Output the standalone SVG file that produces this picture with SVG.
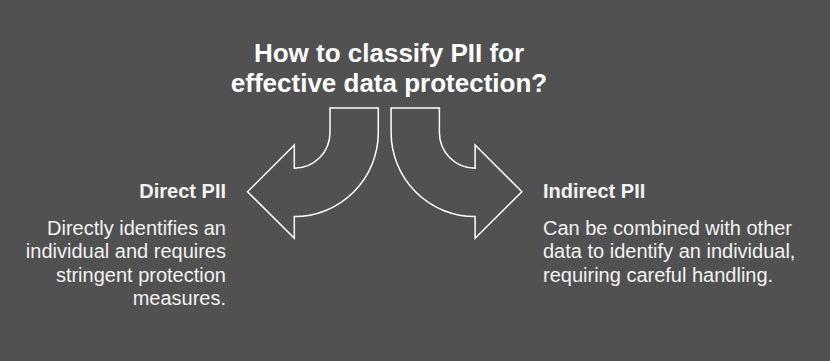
<svg xmlns="http://www.w3.org/2000/svg" width="830" height="361" viewBox="0 0 830 361">
<style>
.title{font-family:"Liberation Sans",Arial,sans-serif;font-weight:bold;font-size:26px;fill:#ffffff;text-anchor:middle}
.head{font-family:"Liberation Sans",Arial,sans-serif;font-weight:bold;font-size:20px;fill:#f2f2f2}
.body{font-family:"Liberation Sans",Arial,sans-serif;font-size:20px;fill:#f2f2f2}
.arrow{fill:none;stroke:#ffffff;stroke-width:1.5;stroke-linejoin:miter}
</style>
<rect width="830" height="361" fill="#515151"/>
<g id="title">
<text class="title" x="389" y="61.5">How to classify PII for</text>
<text class="title" x="389" y="92">effective data protection?</text>
</g>
<g id="connectors">
<path class="arrow" d="M330,108 L378.3,108 L378.3,132.6 A84,84 0 0 1 294.3,216.6 L294.3,238.3 L247.5,191.7 L294.3,145 L294.3,168.3 A35.7,35.7 0 0 0 330,132.6 Z"/>
<path class="arrow" d="M439.4,108 L391.1,108 L391.1,132.6 A84,84 0 0 0 475.1,216.6 L475.1,238.3 L521.9,191.7 L475.1,145 L475.1,168.3 A35.7,35.7 0 0 1 439.4,132.6 Z"/>
</g>
<g id="direct-pii" text-anchor="end">
<text class="head" x="226" y="198">Direct PII</text>
<text class="body" x="226" y="235">Directly identifies an</text>
<text class="body" x="226" y="258.3">individual and requires</text>
<text class="body" x="226" y="281.7">stringent protection</text>
<text class="body" x="226" y="305">measures.</text>
</g>
<g id="indirect-pii">
<text class="head" x="543" y="198">Indirect PII</text>
<text class="body" x="543" y="235">Can be combined with other</text>
<text class="body" x="543" y="258.3">data to identify an individual,</text>
<text class="body" x="543" y="281.7">requiring careful handling.</text>
</g>
</svg>
